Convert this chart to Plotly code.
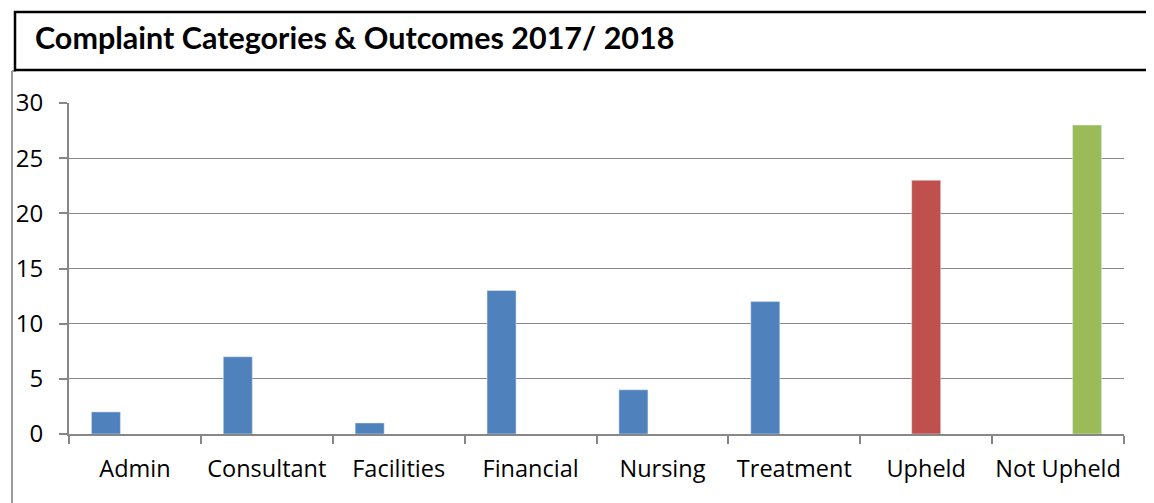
import plotly.graph_objects as go

categories = ["Admin", "Consultant", "Facilities", "Financial", "Nursing",
              "Treatment", "Upheld", "Not Upheld"]
by_category = [2, 7, 1, 13, 4, 12, None, None]
upheld = [None, None, None, None, None, None, 23, None]
not_upheld = [None, None, None, None, None, None, None, 28]
y_ticks = [0, 5, 10, 15, 20, 25, 30]

# page body has an 8px margin, so the figure is drawn 8px in and down
OFFX, OFFY = 8, 8
W, H = 1154 - OFFX, 503 - OFFY
L, R, T, B = 69 - OFFX, 30, 103 - OFFY, 69
pw, ph = W - L - R, H - T - B


def px(x):
    return (x - OFFX - L) / pw


def py(y):
    return (H - B - (y - OFFY)) / ph


fig = go.Figure()
fig.add_trace(go.Bar(x=categories, y=by_category, marker_color="#4f81bd", name="Category"))
fig.add_trace(go.Bar(x=categories, y=upheld, marker_color="#c0504d", name="Upheld"))
fig.add_trace(go.Bar(x=categories, y=not_upheld, marker_color="#9bbb59", name="Not Upheld"))

grey = "#878787"

fig.update_layout(
    width=W, height=H,
    margin=dict(l=L, r=R, t=T, b=B, autoexpand=False),
    barmode="group",
    bargap=0.34,
    bargroupgap=0,
    showlegend=False,
    plot_bgcolor="white",
    paper_bgcolor="white",
    font=dict(family="Open Sans, Noto Sans, sans-serif", size=23, color="black"),
    xaxis=dict(
        showgrid=False, showline=True, linecolor=grey, linewidth=2,
        ticks="outside", ticklen=8, tickcolor=grey, tickwidth=1.5,
        tickson="boundaries", tickfont=dict(size=23.5), ticklabelstandoff=13,
        tickangle=0, automargin=False,
    ),
    yaxis=dict(
        range=[0, 30], tickvals=y_ticks, showgrid=True, gridcolor=grey,
        gridwidth=1, showline=True, linecolor=grey, linewidth=2,
        ticks="outside", ticklen=8, tickcolor=grey, tickwidth=1.5,
        zeroline=False, tickfont=dict(size=24), ticklabelstandoff=11,
        automargin=False,
    ),
    shapes=[
        # grey outer frame
        dict(type="line", xref="paper", yref="paper",
             x0=px(12), x1=px(12), y0=py(71), y1=py(520),
             line=dict(color="#9a9a9a", width=2)),
        dict(type="line", xref="paper", yref="paper",
             x0=px(12), x1=px(16), y0=py(71), y1=py(71),
             line=dict(color="#9a9a9a", width=2)),
        # title box
        dict(type="rect", xref="paper", yref="paper",
             x0=px(15), x1=px(1175), y0=py(12), y1=py(70),
             line=dict(color="black", width=2.5), fillcolor="rgba(0,0,0,0)"),
    ],
    annotations=[
        dict(text="<b>Complaint Categories & Outcomes 2017/ 2018</b>",
             xref="paper", yref="paper", x=px(33), y=py(37.5),
             xanchor="left", yanchor="middle", showarrow=False,
             font=dict(family="Lato, Open Sans, sans-serif", size=30.5, color="black")),
    ],
)

fig.write_html("out.html")
